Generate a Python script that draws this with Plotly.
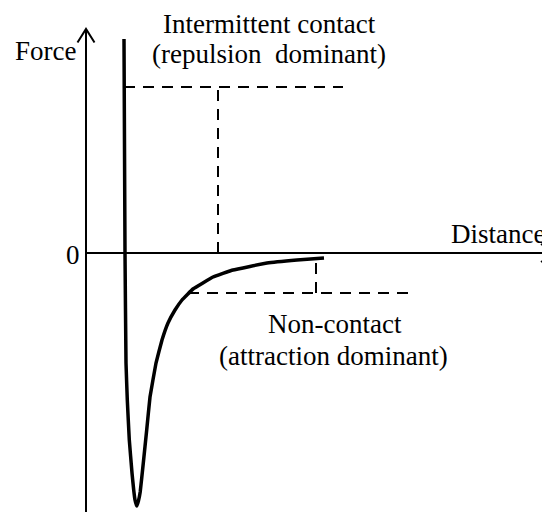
import plotly.graph_objects as go

# Force-distance curve (distance units, force units; axis origin at 0,0)
distance = [3.8, 3.9, 4.0, 4.13, 4.33, 4.6, 4.77, 4.9, 5.07, 5.24, 5.42, 5.73, 6.07, 6.4,
            7.0, 7.6, 8.2, 8.9, 9.6, 10.7, 12.7, 14.7, 18.1, 21.1, 23.8]
force = [21.4, 0.0, -11.0, -14.7, -18.7, -22.0, -23.7, -24.7, -25.3, -24.8, -23.9, -21.0, -17.7, -14.4,
         -11.0, -8.7, -7.0, -5.7, -4.7, -3.6, -2.4, -1.7, -1.0, -0.7, -0.5]

# Regime markers
repulsion_level = 16.6
repulsion_span = [3.8, 25.7]
repulsion_drop_x = 13.2
attraction_level = -4.0
attraction_span = [10.2, 32.7]
attraction_drop_x = 23.0
attraction_top = -0.5

# Axis extents
x_range = [-7.8, 46.4]
y_range = [-25.9, 24.5]
y_axis_top = 22.4
x_axis_end = 46.9

FONT = dict(family="Liberation Serif, 'Times New Roman', Times, 'DejaVu Serif', serif",
            size=27, color="black")
BLACK = "black"
DASH = "11px,8px"

fig = go.Figure()

# Axes with open arrowheads
fig.add_trace(go.Scatter(x=[0, 0], y=[y_range[0], y_axis_top], mode="lines",
                         line=dict(color=BLACK, width=2), hoverinfo="skip"))
fig.add_trace(go.Scatter(x=[-0.85, 0, 0.85], y=[y_axis_top - 1.35, y_axis_top, y_axis_top - 1.35],
                         mode="lines", line=dict(color=BLACK, width=2), hoverinfo="skip"))
fig.add_trace(go.Scatter(x=[0, x_axis_end], y=[0, 0], mode="lines",
                         line=dict(color=BLACK, width=2), hoverinfo="skip"))
fig.add_trace(go.Scatter(x=[x_axis_end - 1.4, x_axis_end, x_axis_end - 1.4], y=[0.9, 0, -0.9],
                         mode="lines", line=dict(color=BLACK, width=2), hoverinfo="skip"))

# Dashed guides
fig.add_trace(go.Scatter(x=repulsion_span, y=[repulsion_level, repulsion_level], mode="lines",
                         line=dict(color=BLACK, width=2, dash=DASH), hoverinfo="skip"))
fig.add_trace(go.Scatter(x=[repulsion_drop_x, repulsion_drop_x], y=[0, repulsion_level], mode="lines",
                         line=dict(color=BLACK, width=2, dash=DASH), hoverinfo="skip"))
fig.add_trace(go.Scatter(x=attraction_span, y=[attraction_level, attraction_level], mode="lines",
                         line=dict(color=BLACK, width=2, dash=DASH), hoverinfo="skip"))
fig.add_trace(go.Scatter(x=[attraction_drop_x, attraction_drop_x], y=[attraction_level, attraction_top],
                         mode="lines", line=dict(color=BLACK, width=2, dash=DASH), hoverinfo="skip"))

# Curve
fig.add_trace(go.Scatter(x=distance, y=force, mode="lines",
                         line=dict(color=BLACK, width=3.5, shape="spline", smoothing=0.2),
                         hoverinfo="skip"))

labels = [
    ("Intermittent contact", 18.3, 22.9),
    ("(repulsion&nbsp; dominant)", 18.3, 19.9),
    ("Non-contact", 24.9, -7.1),
    ("(attraction dominant)", 24.75, -10.3),
    ("Force", -4.1, 20.2),
    ("0", -1.3, -0.2),
    ("Distance", 41.15, 1.9),
]
for text, x, y in labels:
    fig.add_annotation(x=x, y=y, text=text, showarrow=False, font=FONT,
                       xanchor="center", yanchor="middle")

fig.update_layout(
    width=542, height=504,
    margin=dict(l=0, r=0, t=0, b=0),
    showlegend=False,
    font=FONT,
    plot_bgcolor="white", paper_bgcolor="white",
    xaxis=dict(range=x_range, visible=False, fixedrange=True),
    yaxis=dict(range=y_range, visible=False, fixedrange=True),
)

fig.write_html("out.html")
